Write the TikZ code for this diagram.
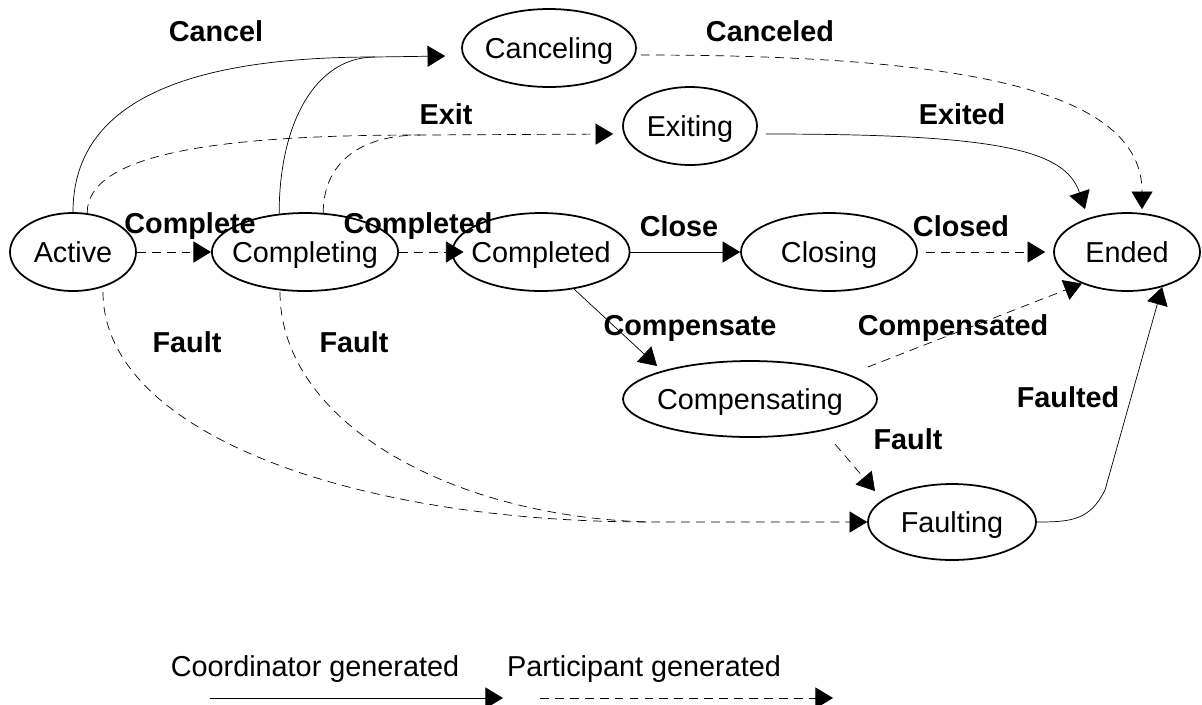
\documentclass[tikz,border=0pt]{standalone}
\usepackage{fontspec}
\setmainfont{Liberation Sans}
\usetikzlibrary{arrows.meta}
\usetikzlibrary{shapes.geometric}
\tikzset{>={Triangle[length=10pt,width=12pt]}, line width=1.2pt}
\tikzset{
  state/.style={ellipse,draw,line width=1pt,inner xsep=-4pt,inner ysep=0pt,text height=15pt,text depth=3.6pt,minimum height=1.56cm,font=\fontsize{16.4}{19}\selectfont},
  lbl/.style={font=\fontsize{16.4}{19}\selectfont\bfseries},
  legend/.style={font=\fontsize{16.4}{19}\selectfont},
  pline/.style={dash pattern=on 5pt off 3.5pt},
  part/.style={pline,->},
  coord/.style={->}
}

\begin{document}
\begin{tikzpicture}[x=0.02cm,y=-0.02cm]
  \useasboundingbox (0,0) rectangle (1202,704);

  % states
  \node[state,minimum width=2.52cm] (act) at (73,252) {Active};
  \node[state,minimum width=3.36cm] (cmpg) at (305,252) {Completing};
  \node[state,minimum width=3.4cm] (cmpd) at (541,252) {Completed};
  \node[state,minimum width=3.52cm] (clsg) at (829,252) {Closing};
  \node[state,minimum width=2.92cm] (ended) at (1127,252) {Ended};
  \node[state,minimum width=3.48cm] (cncl) at (549,48) {Canceling};
  \node[state,minimum width=2.68cm] (exit) at (690,126) {Exiting};
  \node[state,minimum width=5.08cm,minimum height=1.52cm] (cmps) at (750,399) {Compensating};
  \node[state,minimum width=3.36cm,minimum height=1.52cm] (flt) at (952,522) {Faulting};

  % junctions
  \coordinate (cnclj) at (375,57);
  \coordinate (exj) at (420,135);
  \coordinate (fltj) at (650,522);
  \coordinate (fltk) at (1105,490);

  % cancel and exit
  \draw[coord] (act.north) .. controls +(0,-110) and +(-190,0) .. (cnclj) -- ([shift={(-16,8)}]cncl.west);
  \draw (cmpg.124) .. controls +(0,-90) and +(-60,0) .. (cnclj);
  \draw[part] (act.70) .. controls +(0,-60) and +(-200,0) .. (exj) -- ([shift={(-9,8)}]exit.west);
  \draw[pline] (cmpg.65) .. controls +(0,-50) and +(-60,0) .. (exj);

  % main row
  \draw[part] (act) -- (cmpg);
  \draw[part,shorten >=-0.24cm] (cmpg) -- (cmpd);
  \draw[coord] (cmpd) -- (clsg);
  \draw[part,shorten <=0.16cm,shorten >=0.16cm] (clsg) -- (ended);

  % into ended
  \draw[part] ([shift={(4,7)}]cncl.east) .. controls +(320,0) and +(0,-120) .. ([shift={(15,-3)}]ended.north);
  \draw[coord] ([shift={(8,8)}]exit.east) .. controls +(230,0) and +(-20,-60) .. ([shift={(-42,-3)}]ended.north);
  \draw[part] ([shift={(-10,-32)}]cmps.east) -- (ended.215);
  \draw[coord] (flt.east) .. controls +(35,0) and +(-15,30) .. (fltk) -- (ended.-45);

  % compensation
  \draw[coord] ([shift={(33,37)}]cmpd.center) -- ([shift={(-93,-33)}]cmps.center);
  \draw[part] ([shift={(85,45)}]cmps.center) -- ([shift={(-77,-31)}]flt.center);

  % faults
  \draw[pline] ([shift={(30,0)}]act.south) .. controls +(0,140) and +(-300,0) .. (fltj);
  \draw[part] ([shift={(-25,0)}]cmpg.south) .. controls +(0,130) and +(-200,-5) .. (fltj) -- (flt.west);

  % labels
  \node[lbl] (lcncl) at (216,31) {Cancel};
  \node[lbl] (lcncd) at (770,31) {Canceled};
  \node[lbl] (lexit) at (446,114) {Exit};
  \node[lbl] (lexd) at (962,114) {Exited};
  \node[lbl] (lcmpl) at (190,226) {Complete};
  \node[lbl] (lcmpd) at (418,226) {Completed};
  \node[lbl] (lcls) at (679,226) {Close};
  \node[lbl] (lclsd) at (961,226) {Closed};
  \node[lbl] (lflta) at (187,342) {Fault};
  \node[lbl] (lfltb) at (354,342) {Fault};
  \node[lbl] (lcmps) at (690,328) {Compensate};
  \node[lbl] (lcmpsd) at (953,328) {Compensated};
  \node[lbl] (lfltc) at (908,439) {Fault};
  \node[lbl] (lfltd) at (1068,397) {Faulted};

  % legend
  \node[legend] (lgc) at (315,669) {Coordinator generated};
  \node[legend] (lgp) at (644,669) {Participant generated};
  \coordinate (lgca) at (210,698);
  \coordinate (lgcb) at (503,698);
  \coordinate (lgpa) at (540,698);
  \coordinate (lgpb) at (833,698);
  \draw[coord] (lgca) -- (lgcb);
  \draw[part] (lgpa) -- (lgpb);
\end{tikzpicture}
\end{document}
